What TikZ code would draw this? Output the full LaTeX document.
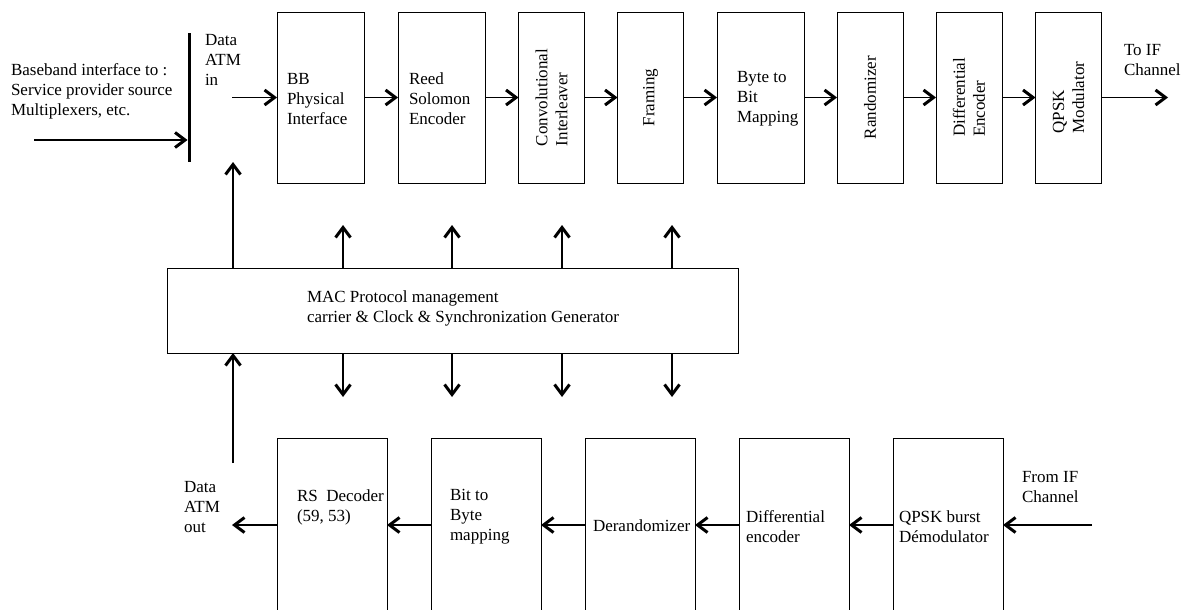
\documentclass[tikz,border=0pt]{standalone}
\usepackage{fontspec}
\setmainfont{Liberation Serif}
\usetikzlibrary{arrows.meta}

\begin{document}
\begin{tikzpicture}[x=1pt, y=-1pt,
  every node/.style={font=\fontsize{17}{20}\selectfont, inner sep=0pt, outer sep=0pt},
  blk/.style={draw, line width=0.9pt, minimum height=171pt},
  lbl/.style={anchor=west, align=left},
  rot/.style={rotate=90, align=left},
  arr/.style={-{Straight Barb[length=10pt,width=15pt,line width=3pt]}, line width=1.6pt}]
  \useasboundingbox (0,0) rectangle (1183,610);
  % transmit chain
  \node[blk, minimum width=87pt] (bb) at (320.5,97.5) {};
  \node[blk, minimum width=87pt] (rs) at (441.5,97.5) {};
  \node[blk, minimum width=66pt] (ci) at (551.5,97.5) {};
  \node[blk, minimum width=66pt] (fr) at (650.5,97.5) {};
  \node[blk, minimum width=87pt] (bm) at (760.5,97.5) {};
  \node[blk, minimum width=66pt] (rnd) at (870,97.5) {};
  \node[blk, minimum width=66pt] (de) at (969,97.5) {};
  \node[blk, minimum width=66pt] (qm) at (1068.5,97.5) {};
  \node[lbl] (bbt) at (287,99) {BB\\Physical\\Interface};
  \node[lbl] (rst) at (409,99) {Reed\\Solomon\\Encoder};
  \node[rot] (cit) at (ci) {Convolutional\\Interleaver};
  \node[rot] (frt) at (fr) {Framing};
  \node[lbl] (bmt) at (737,99) {Byte to\\Bit\\Mapping};
  \node[rot] (rndt) at (rnd) {Randomizer};
  \node[rot] (det) at (de) {Differential\\Encoder};
  \node[rot] (qmt) at (qm) {QPSK\\Modulator};
  \node[lbl] (bbi) at (11,91) {Baseband interface to :\\Service provider source\\Multiplexers, etc.};
  \node[lbl] (dint) at (205,60) {Data\\ATM\\in};
  \node[lbl] (toift) at (1124,60) {To IF\\Channel};
  \node[fill, minimum width=3pt, minimum height=129pt] (bus) at (189,97.5) {};
  \coordinate (src) at (34,140);
  \coordinate (dain) at (232,97.5);
  \coordinate (toif) at (1168,97.5);
  \draw[arr] (src) -- (src -| bus.west);
  \draw[arr] (dain) -- (bb);
  \foreach \a/\b in {bb/rs, rs/ci, ci/fr, fr/bm, bm/rnd, rnd/de, de/qm}
    \draw[arr] (\a) -- (\b);
  \draw[arr] (qm) -- (toif);
  % MAC block
  \node[blk, minimum width=571pt, minimum height=85pt] (mac) at (452.5,310.5) {};
  \node[lbl] (mact) at (307,308) {MAC Protocol management\\carrier \& Clock \& Synchronization Generator};
  \coordinate (up) at (233,162);
  \coordinate (dout) at (233,463);
  \draw[arr] (mac.north -| up) -- (up);
  \draw[arr] (dout) -- (dout |- mac.south);
  \foreach \x [count=\i] in {343,452,562,672} {
    \coordinate (u\i) at (\x,225);
    \coordinate (d\i) at (\x,397);
    \draw[arr, line width=1.3pt] (mac.north -| u\i) -- (u\i);
    \draw[arr, line width=1.3pt] (mac.south -| d\i) -- (d\i);
  }
  % receive chain
  \node[blk, minimum width=110pt, minimum height=173pt] (rsd) at (332,525) {};
  \node[blk, minimum width=110pt, minimum height=173pt] (bbm) at (486,525) {};
  \node[blk, minimum width=110pt, minimum height=173pt] (der) at (640,525) {};
  \node[blk, minimum width=110pt, minimum height=173pt] (dfe) at (794,525) {};
  \node[blk, minimum width=110pt, minimum height=173pt] (qd) at (948,525) {};
  \node[lbl] (datt) at (184,507) {Data\\ATM\\out};
  \node[lbl] (rsdt) at (297,507) {RS\ \ Decoder\\(59, 53)};
  \node[lbl] (bbmt) at (450,517) {Bit to\\Byte\\mapping};
  \node[lbl] (dert) at (593,526) {Derandomizer};
  \node[lbl] (dfet) at (746,527) {Differential\\encoder};
  \node[lbl] (qdt) at (899,527) {QPSK burst\\Démodulator};
  \node[lbl] (fromift) at (1022,487) {From IF\\Channel};
  \coordinate (fromif) at (1092,525);
  \coordinate (daout) at (232,525);
  \draw[arr] (fromif) -- (qd);
  \foreach \a/\b in {qd/dfe, dfe/der, der/bbm, bbm/rsd}
    \draw[arr] (\a) -- (\b);
  \draw[arr] (rsd) -- (daout);
\end{tikzpicture}
\end{document}
